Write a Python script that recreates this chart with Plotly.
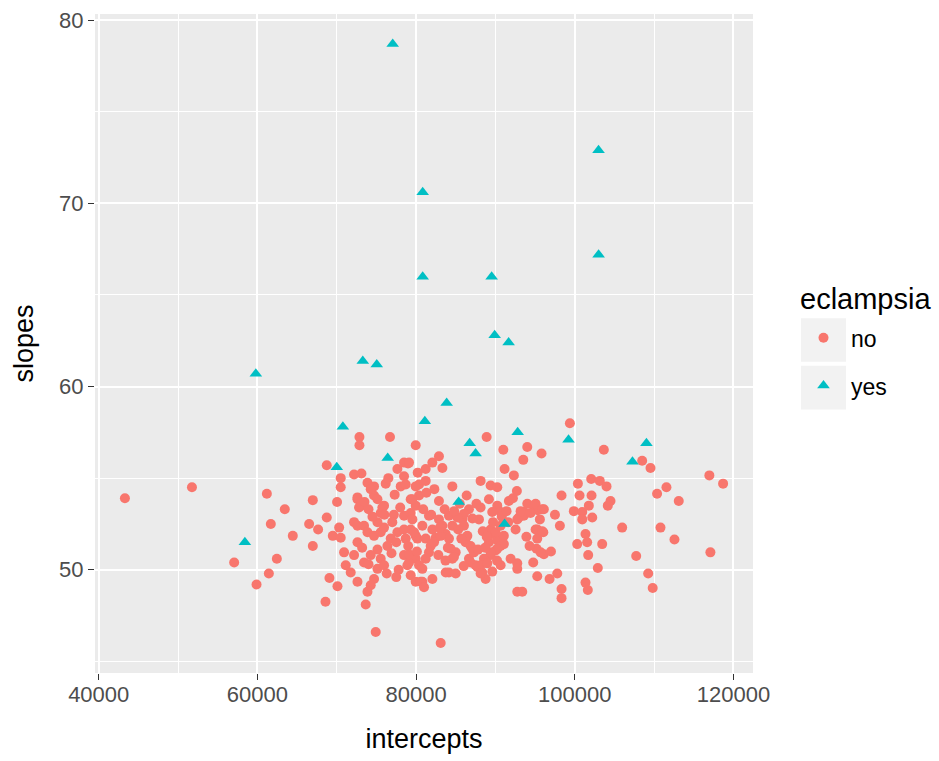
import plotly.graph_objects as go

# ---- data: eclampsia == "no" ----
no_intercepts = [
    43300, 51750, 61190, 63450, 61690, 64460, 57070, 62450, 61440, 59890,
    66980, 68740, 70040, 68740, 66520, 67650, 66980, 69080, 70090, 68580,
    72860, 72860, 76710, 79950, 78980, 77640, 73650, 74910, 75130, 70500, 70500,
    70300, 69500, 70500, 70920, 71130, 71760, 72610, 72610, 73020, 72180,
    72610, 73870, 74700, 74700, 76170, 75960, 75540, 73440, 73870, 74700,
    75540, 75960, 75130, 76800, 77640, 76380, 72610, 72180, 73440, 74280,
    75130, 74700, 74280, 73870, 75540, 75960, 78480, 78900, 79320, 79950,
    80580, 78480, 79320, 79320, 78480, 80160, 80370, 80370, 79320, 79950,
    78480, 78060,
    73110, 72180, 74280, 75130, 78480, 78690, 72610, 72810, 75750, 77200,
    79110, 81210, 82050, 82880, 83310, 81210, 79950, 79530, 84570, 82880,
    81620, 82880, 84140, 79530, 80790, 82050, 83310, 84570, 85830, 79950,
    81210, 82470, 83730, 86240, 87080, 86660, 87500, 88340, 88760, 84140,
    84990, 84570, 81840, 81620, 81210, 79950, 79110, 80370, 80790, 82050,
    84140, 84990,
    99380, 88890, 90990, 94010, 95810, 93510, 103660, 108490, 109540, 116960,
    118690, 110370, 111550, 113100, 110800, 112560, 117090, 107740, 109250, 109820,
    105970, 104500, 104160, 102070, 103150, 104000, 100390, 100600, 102110, 98330,
    99880, 100940, 101770, 102200, 100940, 98120, 101350, 101560, 100300, 103450,
    101690, 102900, 101350, 101640, 98330, 98330, 95270, 96820, 97790, 92750,
    93380, 94760, 96100, 95180, 95270, 96030, 95060, 95600, 95340, 96100,
    94840, 94010, 93580, 92950, 92540, 92750, 91910, 90650, 91150, 92320,
    88130, 89390, 90230, 86370, 88130, 89180, 90230, 91690,
    90650, 89600, 87920, 86660, 86030, 85200, 86030, 86460, 86870, 87290,
    89600, 89180, 90230, 91060, 90650, 90020, 89390, 88550, 88130, 88970,
    86870, 87720, 88130, 83730, 81000, 83100,
    84350, 84770, 82260, 83100, 79110, 80790, 79740, 78690,
    95060, 95900, 93580, 92750, 93170, 94420, 95270, 95900, 95690,
    89390, 91060, 90230, 89390, 90020, 90650, 92750,
    76000, 77000, 77500, 78000, 77300, 76500, 74000, 73500, 74500, 73200,
    74000, 76900, 77800, 80900, 81300, 82300, 83600, 84800, 85500, 85300,
    83000, 84000, 85700, 82800, 83700, 86000, 87100, 87600, 88400, 88900,
    89700, 90800, 91600, 91400, 92200, 92700, 87800, 88700, 90200, 89600,
    80200, 81900, 79000, 80100, 77500, 76300, 93900, 94300, 97500, 97000,
]
no_slopes = [
    53.9, 54.5, 54.15, 53.3, 52.5, 51.85, 50.4, 50.6, 49.8, 49.2,
    53.8, 55.7, 53.7, 52.85, 52.5, 52.2, 51.3, 49.55, 49.1, 48.25,
    57.25, 56.8, 57.25, 56.8, 55.8, 55.5, 48.1, 46.6, 51.1, 55.0, 54.5,
    52.3, 51.85, 51.75, 50.95, 50.25, 49.85, 49.35, 53.85, 53.5, 52.6,
    52.4, 54.75, 54.55, 54.05, 54.7, 53.5, 53.1, 52.4, 52.05, 51.85,
    52.05, 52.3, 52.6, 51.7, 52.05, 51.3, 51.5, 50.8, 50.4, 50.8,
    50.05, 49.5, 49.15, 48.8, 50.6, 50.25, 50.8, 50.25, 49.7, 49.35,
    49.35, 52.95, 53.1, 52.2, 52.2, 51.7, 54.65, 54.05, 53.85, 53.5,
    55.1, 54.55,
    55.25, 55.2, 54.4, 53.85, 55.85, 54.65, 53.95, 53.4, 53.4, 53.0,
    55.85, 55.5, 55.85, 56.2, 55.55, 54.85, 54.55, 53.85, 54.55, 53.75,
    52.95, 52.75, 52.95, 52.75, 52.4, 52.2, 52.4, 52.4, 52.75, 51.85,
    51.7, 51.75, 51.95, 51.5, 51.15, 50.6, 50.25, 49.85, 49.5, 51.7,
    50.95, 50.6, 51.3, 50.95, 50.6, 50.6, 50.4, 50.25, 49.35, 49.5,
    49.85, 49.8,
    58.0, 57.25, 56.55, 56.7, 56.35, 56.0, 56.55, 55.95, 55.55, 55.15,
    54.7, 54.15, 54.5, 53.75, 52.3, 51.65, 50.95, 50.75, 49.8, 49.0,
    52.3, 53.75, 53.5, 54.95, 54.85, 54.55, 54.7, 54.05, 54.05, 54.05,
    53.2, 53.15, 53.5, 52.85, 52.75, 52.4, 51.95, 51.5, 51.4, 51.4,
    50.8, 50.1, 49.3, 48.9, 48.95, 48.45, 49.65, 49.5, 49.8, 48.8,
    48.8, 50.4, 50.85, 51.15, 51.7, 52.05, 52.2, 52.75, 53.25, 53.3,
    53.5, 53.6, 53.15, 52.85, 52.2, 50.35, 50.6, 50.25, 55.5, 55.15,
    54.85, 54.6, 54.5, 54.05, 53.4, 53.85, 53.5, 53.75,
    53.15, 53.15, 52.75, 53.3, 53.05, 52.85, 52.4, 51.85, 51.3, 50.95,
    51.95, 51.5, 51.6, 51.85, 51.3, 51.05, 50.8, 50.6, 50.25, 50.35,
    50.4, 50.15, 49.8, 49.85, 49.05, 46.0,
    51.15, 50.7, 51.5, 51.85, 50.85, 50.05, 52.05, 51.7,
    53.6, 53.3, 52.95, 52.75, 53.2, 53.1, 52.2, 52.1, 50.95,
    52.2, 51.4, 51.15, 50.95, 52.05, 52.4, 50.05,
    53.0, 52.6, 51.5, 53.4, 54.1, 55.0, 53.3, 53.7, 52.9, 51.2,
    50.3, 50.9, 50.0, 53.3, 54.2, 54.4, 53.3, 53.2, 53.6, 52.2,
    52.3, 51.2, 51.7, 50.8, 50.5, 50.2, 52.8, 53.6, 52.1, 51.8,
    52.6, 52.9, 52.6, 53.2, 53.9, 54.3, 51.1, 51.2, 50.5, 49.9,
    55.3, 53.0, 51.3, 51.0, 49.6, 49.8, 51.8, 51.3, 53.0, 51.0,
]

# ---- data: eclampsia == "yes" ----
yes_intercepts = [
    77050, 102990, 80830, 103000, 80830, 89520, 89900, 91660, 59800, 73280,
    75040, 83850, 81100, 70770, 92800, 86750, 87500, 99210, 109030, 107270,
    85360, 91150, 76420, 70000, 58420,
]
yes_slopes = [
    78.7, 72.9, 70.6, 67.2, 66.0, 66.0, 62.8, 62.4, 60.7, 61.4,
    61.2, 59.1, 58.1, 57.8, 57.5, 56.9, 56.35, 57.1, 56.9, 55.9,
    53.7, 52.5, 56.1, 55.6, 51.5,
]

x_ticks = [40000, 60000, 80000, 100000, 120000]
y_ticks = [50, 60, 70, 80]
legend_title = "eclampsia"
groups = ["no", "yes"]

RED = "#F8766D"
TEAL = "#00BFC4"

all_x = no_intercepts + yes_intercepts
all_y = no_slopes + yes_slopes
xw = max(all_x) - min(all_x)
yw = max(all_y) - min(all_y)
x_range = [min(all_x) - 0.05 * xw, max(all_x) + 0.05 * xw]
y_range = [min(all_y) - 0.05 * yw, max(all_y) + 0.05 * yw]

fig = go.Figure()
fig.add_trace(go.Scatter(
    x=no_intercepts, y=no_slopes, mode="markers", name=groups[0],
    legendgroup="g0",
    marker=dict(symbol="circle", size=10, color=RED, line=dict(width=0)),
))
fig.add_trace(go.Scatter(
    x=yes_intercepts, y=yes_slopes, mode="markers", name=groups[1],
    legendgroup="g1",
    marker=dict(symbol="triangle-up", size=11, color=TEAL, line=dict(width=0)),
))

L, R, T, B = 95, 186, 8, 88
W, H = 939, 761
pw, ph = W - L - R, H - T - B


def px_x(p):
    return (p - L) / pw


def px_y(p):
    return (H - B - p) / ph


shapes = [
    dict(type="rect", xref="paper", yref="paper",
         x0=px_x(801), x1=px_x(846), y0=px_y(359), y1=px_y(315),
         fillcolor="#F2F2F2", line=dict(width=0), layer="above"),
    dict(type="rect", xref="paper", yref="paper",
         x0=px_x(801), x1=px_x(846), y0=px_y(407), y1=px_y(363),
         fillcolor="#F2F2F2", line=dict(width=0), layer="above"),
]

axis_common = dict(
    showgrid=True, gridcolor="white", gridwidth=1.6,
    zeroline=False, showline=False,
    ticks="outside", ticklen=6, tickwidth=1.3, tickcolor="#333333",
    tickfont=dict(family="Liberation Sans, Arial", size=22, color="#4D4D4D"),
)

fig.update_layout(
    width=W, height=H,
    margin=dict(l=L, r=R, t=T, b=B),
    paper_bgcolor="white",
    plot_bgcolor="#EBEBEB",
    font=dict(family="Liberation Sans, Arial", color="black"),
    xaxis=dict(
        range=x_range, tickmode="array", tickvals=x_ticks,
        ticktext=[str(v) for v in x_ticks],
        minor=dict(dtick=10000, tick0=40000, showgrid=True,
                   gridcolor="white", gridwidth=0.8),
        title=dict(text="intercepts", font=dict(size=27, color="black"),
                   standoff=22),
        ticklabelstandoff=-4,
        **axis_common,
    ),
    yaxis=dict(
        range=y_range, tickmode="array", tickvals=y_ticks,
        ticktext=[str(v) for v in y_ticks],
        minor=dict(dtick=5, tick0=45, showgrid=True,
                   gridcolor="white", gridwidth=0.8),
        title=dict(text="slopes", font=dict(size=27, color="black"),
                   standoff=17),
        **axis_common,
    ),
    showlegend=True,
    legend=dict(
        x=px_x(796), xanchor="left",
        y=px_y(313), yanchor="top",
        bgcolor="rgba(0,0,0,0)",
        font=dict(size=23, color="black", family="Liberation Sans, Arial"),
        traceorder="grouped", tracegroupgap=15,
        itemsizing="trace", itemwidth=45,
    ),
    annotations=[dict(
        text=legend_title, xref="paper", yref="paper",
        x=px_x(798), y=px_y(296), xanchor="left", yanchor="middle",
        showarrow=False, font=dict(size=29, color="black"),
    )],
    shapes=shapes,
)

fig.write_html("out.html")
